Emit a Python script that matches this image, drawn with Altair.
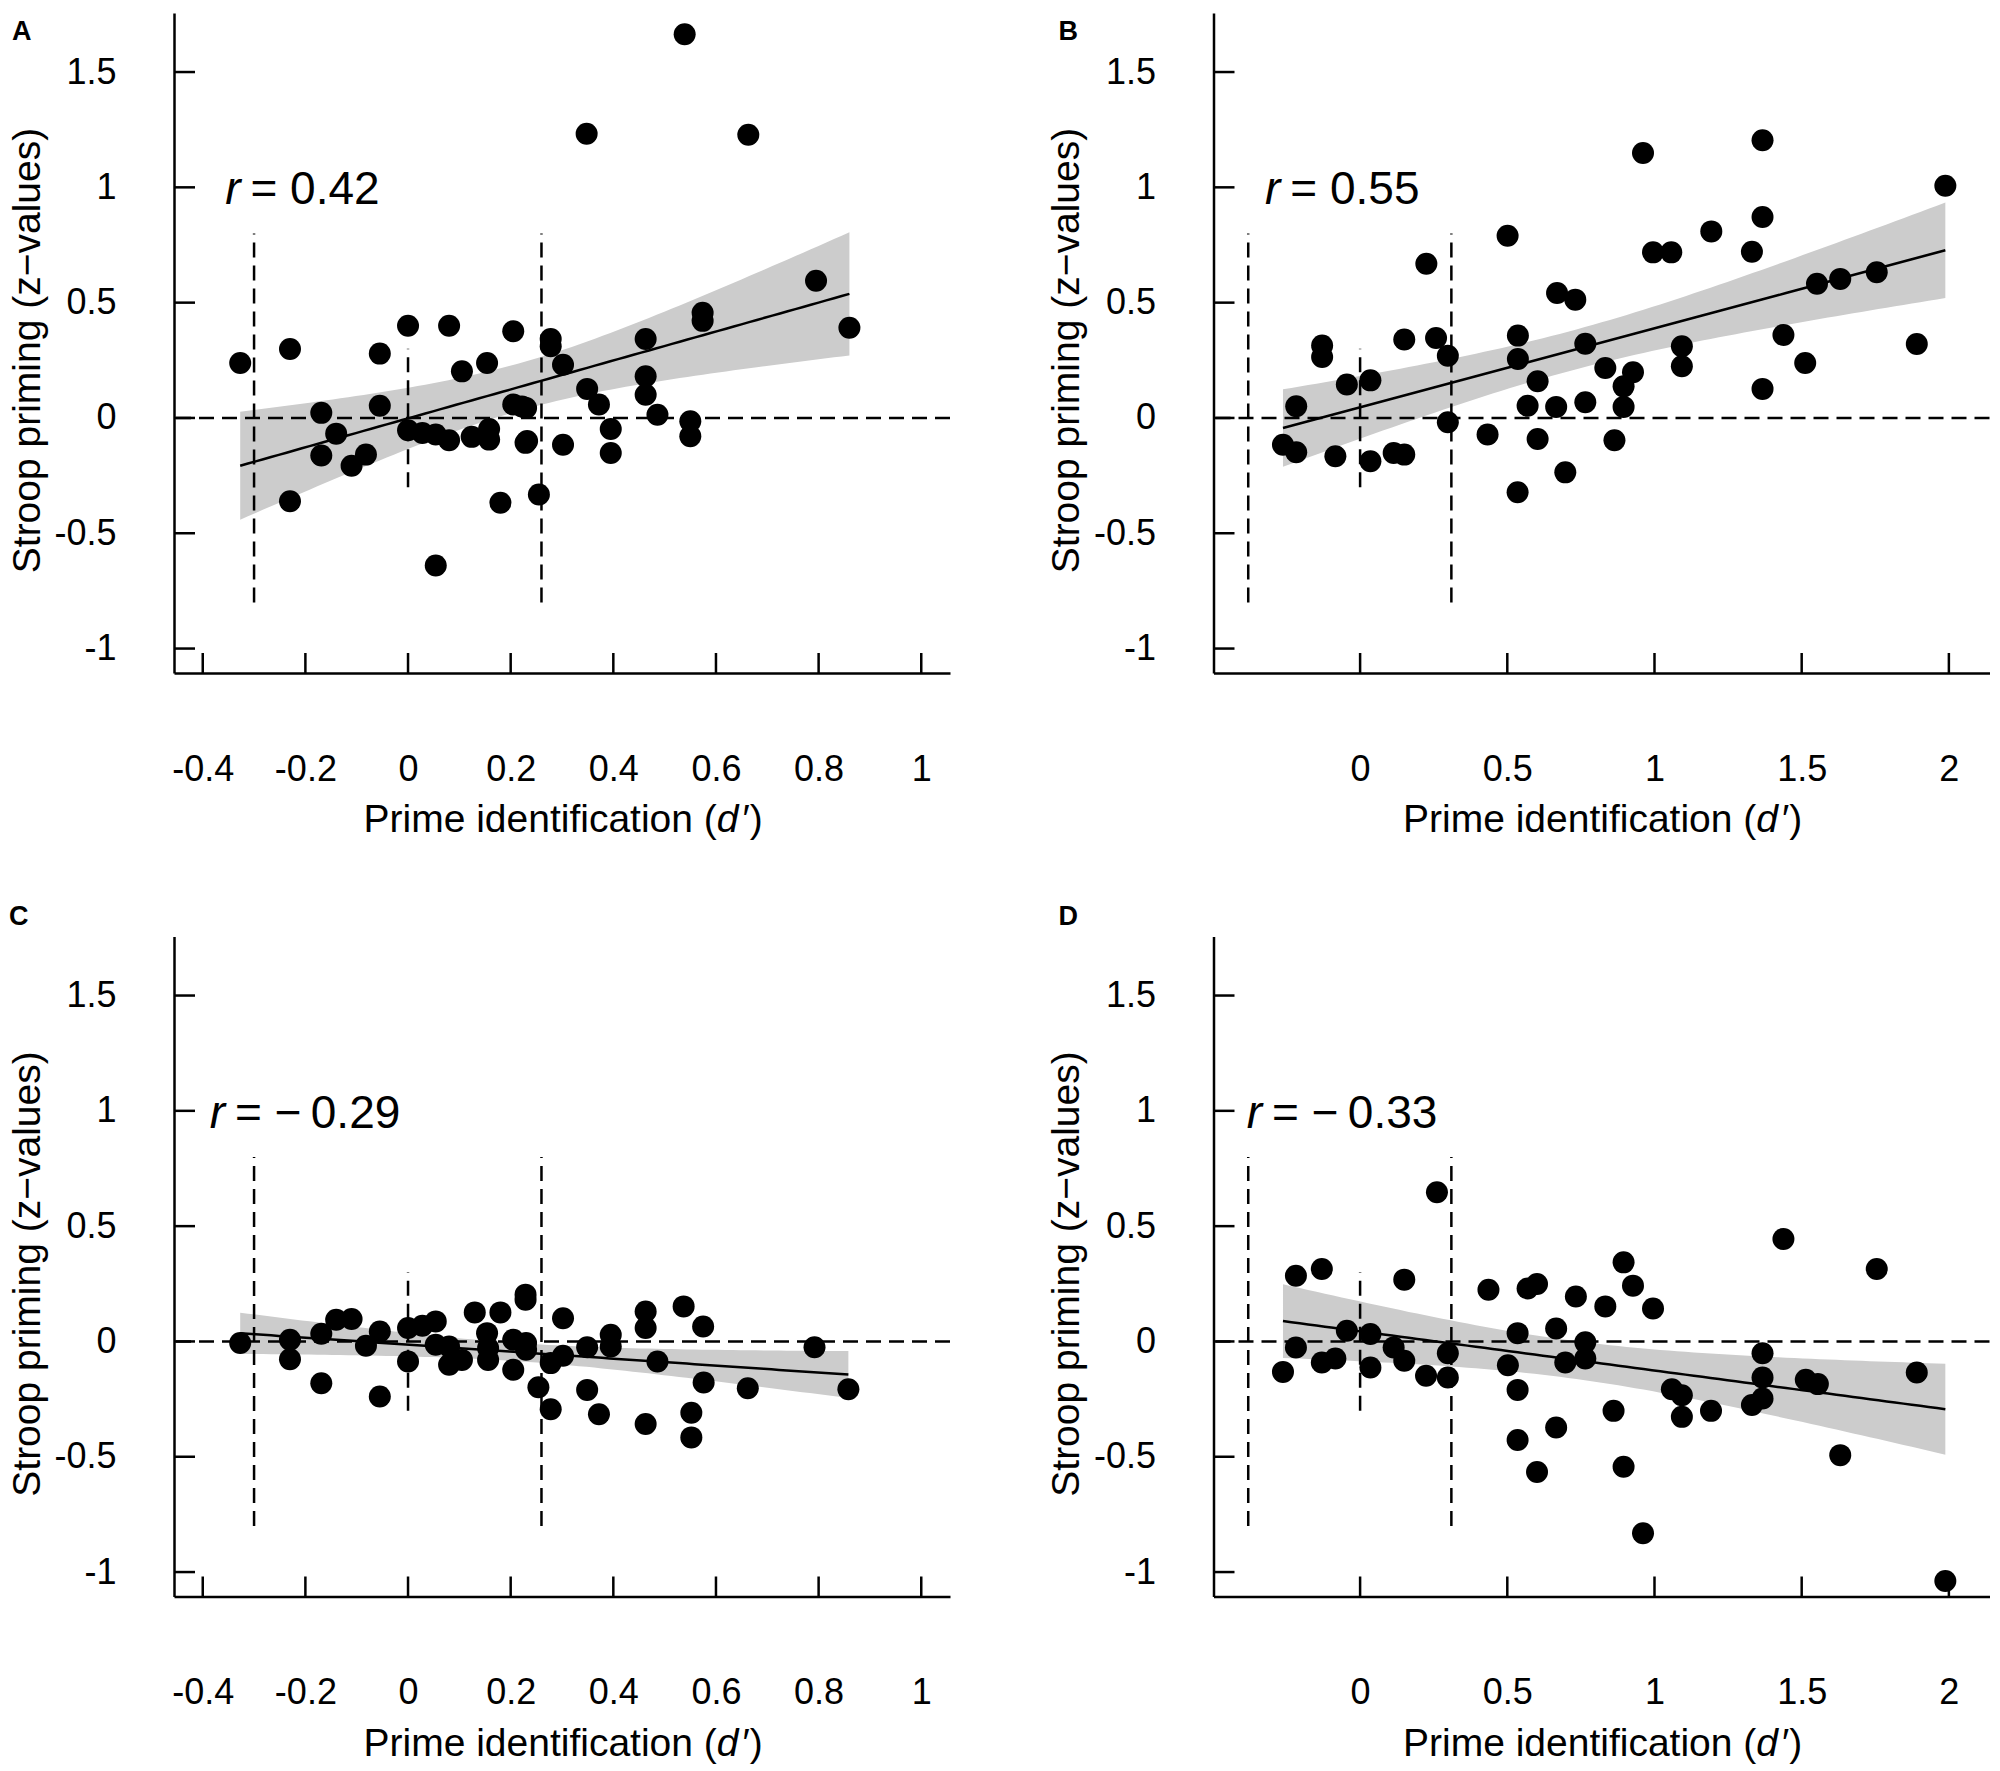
import altair as alt
import numpy as np
import pandas as pd

# ---------------- data ----------------
A_x = [-0.327, -0.230, -0.230, -0.169, -0.169, -0.140, -0.110, -0.082, -0.055, -0.055,
       0.000, 0.000, 0.028, 0.054, 0.054, 0.080, 0.080, 0.105, 0.124, 0.154,
       0.158, 0.158, 0.232, 0.180, 0.205, 0.205, 0.222, 0.230, 0.229, 0.255,
       0.278, 0.278, 0.302, 0.302, 0.349, 0.372, 0.395, 0.395, 0.463, 0.463,
       0.463, 0.486, 0.550, 0.550, 0.348, 0.539, 0.663, 0.795, 0.860, 0.574, 0.574]
A_y = [0.238, 0.299, -0.361, 0.022, -0.163, -0.068, -0.207, -0.159, 0.279, 0.053,
       0.400, -0.053, -0.065, -0.072, -0.640, 0.400, -0.097, 0.202, -0.082, 0.238,
       -0.048, -0.094, -0.100, -0.368, 0.376, 0.058, 0.050, 0.043, -0.108, -0.332,
       0.342, 0.311, 0.231, -0.116, 0.126, 0.058, -0.048, -0.152, 0.342, 0.181,
       0.101, 0.014, -0.014, -0.079, 1.232, 1.664, 1.228, 0.595, 0.391, 0.456, 0.421]

B_x = [0.961, 0.501, 1.193, 0.995, 1.057, 0.225, 0.669, 0.731, -0.129, -0.129,
       0.150, 0.258, 0.298, 0.536, 0.536, 0.765, 1.093, 1.093, -0.045, 0.035,
       -0.217, -0.262, -0.217, -0.084, 0.035, 0.114, 0.150, 0.298, 0.433, 0.603,
       0.569, 0.666, 0.765, 0.833, 0.895, 0.927, 0.895, 0.603, 0.864, 0.697,
       0.535, 1.367, 1.988, 1.367, 1.331, 1.552, 1.631, 1.755, 1.438, 1.891,
       1.512, 1.367]
B_y = [1.149, 0.790, 0.809, 0.718, 0.718, 0.669, 0.542, 0.513, 0.314, 0.264,
       0.340, 0.347, 0.270, 0.357, 0.256, 0.322, 0.311, 0.224, 0.145, 0.163,
       0.051, -0.116, -0.149, -0.166, -0.188, -0.152, -0.159, -0.019, -0.072, 0.159,
       0.053, 0.048, 0.068, 0.217, 0.137, 0.198, 0.048, -0.091, -0.097, -0.236,
       -0.322, 1.204, 1.007, 0.871, 0.721, 0.582, 0.603, 0.632, 0.360, 0.321,
       0.238, 0.126]

C_x = [-0.327, -0.230, -0.230, -0.169, -0.169, -0.140, -0.110, -0.082, -0.055, -0.055,
       0.000, 0.000, 0.028, 0.054, 0.054, 0.080, 0.080, 0.105, 0.130, 0.154,
       0.156, 0.156, 0.180, 0.205, 0.205, 0.229, 0.229, 0.230, 0.230, 0.254,
       0.278, 0.278, 0.302, 0.302, 0.349, 0.349, 0.372, 0.395, 0.395, 0.463,
       0.463, 0.486, 0.463, 0.537, 0.575, 0.552, 0.552, 0.576, 0.662, 0.792, 0.858]
C_y = [-0.007, 0.007, -0.077, 0.033, -0.181, 0.094, 0.097, -0.019, 0.043, -0.239,
       0.058, -0.087, 0.068, 0.087, -0.014, -0.022, -0.101, -0.080, 0.126, 0.036,
       -0.029, -0.080, 0.126, 0.007, -0.123, 0.203, 0.181, -0.007, -0.036, -0.199,
       -0.094, -0.294, 0.101, -0.062, -0.025, -0.210, -0.316, 0.029, -0.022, 0.130,
       0.058, -0.087, -0.358, 0.152, 0.065, -0.309, -0.416, -0.178, -0.203, -0.025, -0.207]

D_x = [0.261, -0.218, -0.130, 0.150, 0.436, 0.569, 0.601, 0.733, 0.833, 0.895,
       0.927, 0.995, -0.045, 0.035, -0.218, -0.262, -0.130, -0.084, 0.035, 0.114,
       0.150, 0.224, 0.298, 0.298, 0.535, 0.666, 0.765, 0.765, 0.697, 0.502,
       0.535, 0.535, 0.601, 0.666, 0.861, 0.895, 0.961, 1.059, 1.093, 1.093,
       1.192, 1.438, 1.755, 1.367, 1.367, 1.367, 1.331, 1.514, 1.555, 1.891,
       1.631, 1.988]
D_y = [0.647, 0.285, 0.314, 0.268, 0.224, 0.230, 0.249, 0.195, 0.152, 0.343,
       0.242, 0.143, 0.046, 0.032, -0.026, -0.132, -0.091, -0.074, -0.113, -0.026,
       -0.084, -0.149, -0.051, -0.156, 0.036, 0.056, -0.004, -0.074, -0.091, -0.103,
       -0.210, -0.427, -0.566, -0.373, -0.301, -0.543, -0.832, -0.207, -0.233, -0.327,
       -0.301, 0.444, 0.314, -0.051, -0.156, -0.247, -0.276, -0.166, -0.185, -0.135,
       -0.493, -1.039]

X_TICKS_AC = [-0.4, -0.2, 0, 0.2, 0.4, 0.6, 0.8, 1]
X_TICKS_BD = [0, 0.5, 1, 1.5, 2]
Y_TICKS = [-1, -0.5, 0, 0.5, 1, 1.5]
XDOM_AC = [-0.456, 1.056]
XDOM_BD = [-0.498, 2.138]
YDOM = [-1.106, 1.756]

VLINE_X_AC = [-0.3, 0, 0.26]
VLINE_X_BD = [-0.38, 0, 0.31]
VLINE_Y1 = [-0.8, -0.3, -0.8]
VLINE_Y2 = [0.8, 0.3, 0.8]

R_TEXT = ["= 0.42", "= 0.55", "= \u2212\u20090.29", "= \u2212\u20090.33"]
R_ANCHOR = [-0.307, -0.237, -0.337, -0.299]
R_Y = 1.0
LETTERS = ["A", "B", "C", "D"]

# x title in three pieces: plain, italic "d", plain
X_TITLE_PARTS = ["Prime identification (", "d", "\u2032)"]
Y_TITLE = "Stroop priming (z\u2212values)"

# ---------------- style ----------------
FONT = "Liberation Sans"
W, H = 776, 660
T975 = 2.01
LW = 2.5
DASH = [15, 8]
TITLE_FS = 39
XT_POS = [189.5, 542.8, 568.5]   # pixel offsets of the x-title pieces from the plot's left edge
XT_Y = H + 147
LABEL_EXPR = "datum.value < 0 ? '-' + format(-datum.value, '') : format(datum.value, '')"


def fit_band(x, y, n=80):
    x = np.asarray(x, float)
    y = np.asarray(y, float)
    k = len(x)
    slope, icpt = np.polyfit(x, y, 1)
    res = y - (icpt + slope * x)
    s = np.sqrt((res ** 2).sum() / (k - 2))
    xm = x.mean()
    sxx = ((x - xm) ** 2).sum()
    g = np.linspace(x.min(), x.max(), n)
    f = icpt + slope * g
    se = s * np.sqrt(1.0 / k + (g - xm) ** 2 / sxx)
    return pd.DataFrame({"x": g, "fit": f, "lo": f - T975 * se, "hi": f + T975 * se})


def panel(px, py, xdom, xticks, vx, r_text, r_anchor, letter, ldx, ldy):
    xs = alt.Scale(domain=xdom, nice=False, zero=False)
    ys = alt.Scale(domain=YDOM, nice=False, zero=False)
    xaxis = alt.Axis(values=xticks, title="", labelExpr=LABEL_EXPR,
                     labelPadding=96, labelBaseline="middle")
    yaxis = alt.Axis(values=Y_TICKS, title=Y_TITLE, labelExpr=LABEL_EXPR,
                     labelPadding=58,
                     titleX=-147, titleY=337, titleBaseline="middle")

    def X(f):
        return alt.X(f, type="quantitative", scale=xs, axis=xaxis)

    def Y(f):
        return alt.Y(f, type="quantitative", scale=ys, axis=yaxis)

    bdf = fit_band(px, py)
    band = alt.Chart(bdf).mark_area(color="#cccccc", opacity=1).encode(
        x=X("x"), y=Y("lo"), y2="hi:Q")
    hline = alt.Chart(pd.DataFrame({"h": [0.0]})).mark_rule(
        color="black", strokeWidth=LW, strokeDash=DASH).encode(y=Y("h"))
    vdf = pd.DataFrame({"vx": vx, "vy1": VLINE_Y1, "vy2": VLINE_Y2})
    vlines = alt.Chart(vdf).mark_rule(color="black", strokeWidth=LW, strokeDash=DASH).encode(
        x=X("vx"), y=Y("vy1"), y2="vy2:Q")
    line = alt.Chart(bdf).mark_line(color="black", strokeWidth=LW).encode(
        x=X("x"), y=Y("fit"))
    pts = alt.Chart(pd.DataFrame({"px": px, "py": py})).mark_circle(
        size=484, color="black", opacity=1).encode(x=X("px"), y=Y("py"))
    xt = alt.Chart(pd.DataFrame({"t": xticks})).mark_rule(color="black", strokeWidth=LW).encode(
        x=X("t"), y=alt.value(H), y2=alt.value(H - 20))
    yt = alt.Chart(pd.DataFrame({"t": Y_TICKS})).mark_rule(color="black", strokeWidth=LW).encode(
        y=Y("t"), x=alt.value(0), x2=alt.value(21))
    rdf = pd.DataFrame({"ax": [r_anchor], "ry": [R_Y], "r": ["r"], "rest": [r_text]})
    r1 = alt.Chart(rdf).mark_text(font=FONT, fontSize=46, fontStyle="italic", align="right",
                                  baseline="middle", dx=-10, dy=3, color="black").encode(
        x=X("ax"), y=Y("ry"), text="r:N")
    r2 = alt.Chart(rdf).mark_text(font=FONT, fontSize=46, align="left",
                                  baseline="middle", dy=3, color="black").encode(
        x=X("ax"), y=Y("ry"), text="rest:N")
    let = alt.Chart(pd.DataFrame({"L": [letter]})).mark_text(
        font=FONT, fontSize=27, fontWeight="bold", align="left", baseline="middle",
        color="black").encode(x=alt.value(ldx), y=alt.value(ldy), text="L:N")
    tparts = []
    for part, pos, style in zip(X_TITLE_PARTS, XT_POS, ["normal", "italic", "normal"]):
        tparts.append(
            alt.Chart(pd.DataFrame({"s": [part]})).mark_text(
                font=FONT, fontSize=TITLE_FS, fontStyle=style, align="left",
                baseline="middle", color="black").encode(
                x=alt.value(pos), y=alt.value(XT_Y), text="s:N"))
    return alt.layer(band, hline, vlines, line, pts, xt, yt, r1, r2, let, *tparts).properties(
        width=W, height=H)


pA = panel(A_x, A_y, XDOM_AC, X_TICKS_AC, VLINE_X_AC, R_TEXT[0], R_ANCHOR[0], LETTERS[0], -162, 18.5)
pB = panel(B_x, B_y, XDOM_BD, X_TICKS_BD, VLINE_X_BD, R_TEXT[1], R_ANCHOR[1], LETTERS[1], -155, 18.5)
pC = panel(C_x, C_y, XDOM_AC, X_TICKS_AC, VLINE_X_AC, R_TEXT[2], R_ANCHOR[2], LETTERS[2], -165, -20)
pD = panel(D_x, D_y, XDOM_BD, X_TICKS_BD, VLINE_X_BD, R_TEXT[3], R_ANCHOR[3], LETTERS[3], -155, -20)

chart = alt.concat(pA, pB, pC, pD, columns=2, spacing=263.5).properties(
    bounds="flush",
    padding={"left": 0, "top": 5, "right": 0, "bottom": 0},
).configure_view(
    stroke=None
).configure_axis(
    ticks=False, tickSize=0, grid=False,
    domainColor="black", domainWidth=LW,
    labelFont=FONT, labelFontSize=36, labelColor="black",
    labelFlush=False, labelOverlap=False,
    titleFont=FONT, titleFontSize=TITLE_FS, titleFontWeight="normal", titleColor="black",
)

chart.save("out.html", embed_options={"renderer": "svg", "actions": False})
